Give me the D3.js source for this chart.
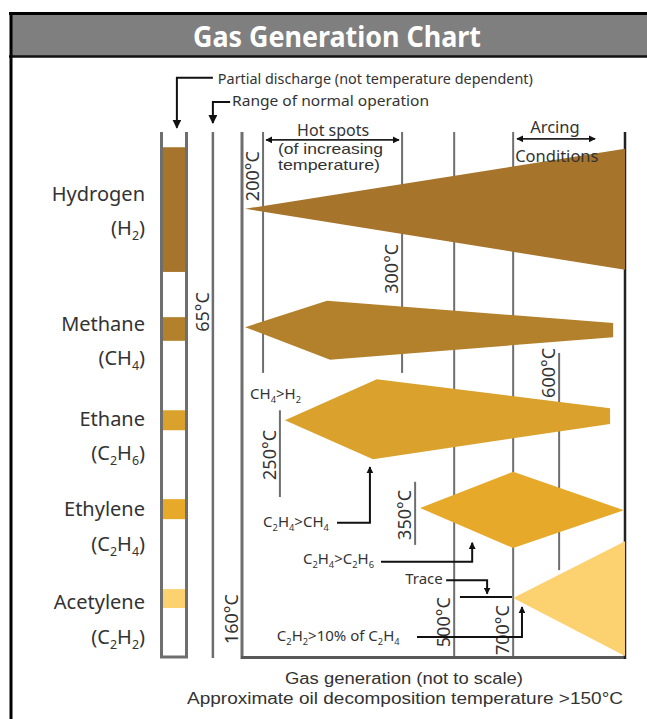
<!DOCTYPE html>
<html><head><meta charset="utf-8">
<script src="https://cdn.jsdelivr.net/npm/d3@7"></script>
<style>
body{margin:0;background:#fff}
svg{display:block}
text{font-family:"Noto Sans","Open Sans",sans-serif;fill:#333}
text.tight{font-family:"Liberation Sans",Arial,sans-serif}
</style>
</head><body>
<svg id="c" width="647" height="719"></svg>
<script>
// ---------------- data ----------------
const title = "Gas Generation Chart";
const gases = ["Hydrogen", "Methane", "Ethane", "Ethylene", "Acetylene"];
const formulas = ["(H_2)", "(CH_4)", "(C_2H_6)", "(C_2H_4)", "(C_2H_2)"];
const gasColors = ["#a6742a", "#b3812b", "#daa22d", "#e7a92a", "#fcd170"];
// partial discharge column: [start, end] in chart height units (0 top .. 100 bottom)
const dischargeBars = [[2.9, 26.6], [35.2, 39.7], [52.9, 56.7], [69.8, 73.6], [86.9, 90.5]];
// gas generation shapes, [generation position (0..100), height units]
const shapes = [
  [[0.8, 14.6], [100, 3.2], [100, 26.2]],
  [[0.8, 37.1], [22.2, 32.1], [96.9, 36.3], [96.9, 39.0], [23.0, 43.3]],
  [[11.2, 54.8], [35.2, 47.0], [96.1, 52.5], [96.1, 55.5], [34.2, 62.2]],
  [[46.5, 71.5], [70.8, 64.6], [99.7, 71.9], [70.8, 79.1]],
  [[70.8, 88.6], [100, 77.8], [100, 99.6]]
];
// temperature marker lines
const tempLabels = ["200°C", "300°C", "250°C", "350°C", "500°C", "700°C", "600°C"];
const tempPos    = [5.5, 41.8, 9.9, 45.2, 55.4, 70.8, 82.8];
const tempTop    = [0, 0, 52.9, 66.5, 0, 0, 42.0];
const tempBottom = [45.8, 45.8, 69.4, 78.5, 100, 100, 83.3];
const tempLabelAt = [8.4, 26.0, 61.4, 72.8, 93.2, 94.7, 45.8];
// boundary temperatures
const boundaryLabels = ["65°C", "160°C"];
const boundaryPos = [-7.6, 0];
const boundaryLabelAt = [34.2, 92.6];
// ratio annotations
const ratioLabels = ["CH_4>H_2", "C_2H_4>CH_4", "C_2H_4>C_2H_6", "Trace", "C_2H_2>10% of C_2H_4"];
const ratioAt = [[2.1, 50.8], [5.5, 75.1], [15.9, 82.1], [42.6, 85.9], [9.1, 96.8]];
const ratioArrows = [null,
  [[24.8, 74.3], [33.4, 74.3], [33.4, 63.7]],
  [[36.3, 81.7], [60.1, 81.7], [60.1, 78.1]],
  [[53.3, 85.2], [64.0, 85.2], [64.0, 87.8]],
  [[45.7, 96.0], [73.1, 96.0], [73.1, 90.3]]];
const traceLine = [[56.9, 88.4], [70.5, 88.4]];
// top callouts
const calloutLabels = ["Partial discharge (not temperature dependent)", "Range of normal operation"];
const calloutArrows = [
  [[-7.6, -10.3], [-17.0, -10.3], [-17.0, -0.8]],
  [[-3.1, -5.7], [-7.6, -5.7], [-7.6, -1.7]]];
const calloutAt = [[-6.3, -9.1], [-2.6, -4.9]];
const calloutWidths = [315, 197];
const hotSpotsLines = ["(of increasing", "temperature)"];
const regionLabels = ["Hot spots", "Arcing", "Conditions"];
const hotSpotsArrow = [6.3, 41.0];
const arcingArrow = [71.8, 92.2];
const captions = ["Gas generation (not to scale)", "Approximate oil decomposition temperature >150°C"];

// ---------------- layout ----------------
const svg = d3.select("#c");
const x = d3.scaleLinear().domain([0, 100]).range([242, 625]);
const y = d3.scaleLinear().domain([0, 100]).range([132, 658]);
const line = d3.line().x(d => x(d[0])).y(d => y(d[1]));
const gray = "#6e6e6e";

const defs = svg.append("defs");
function marker(id, size) {
  defs.append("marker").attr("id", id).attr("viewBox", "0 0 10 10")
    .attr("refX", 9).attr("refY", 5).attr("markerUnits", "userSpaceOnUse")
    .attr("markerWidth", size).attr("markerHeight", size)
    .attr("orient", "auto-start-reverse")
    .append("path").attr("d", "M0,0 L10,5 L0,10 z").attr("fill", "#111");
}
marker("arr", 9);
marker("arrS", 7);

function rich(sel, str, fs) {
  const parts = str.split(/(_\d+)/).filter(s => s);
  let prevSub = false;
  parts.forEach(p => {
    if (p[0] === "_") {
      sel.append("tspan").attr("font-size", fs * 0.62).attr("dy", fs * 0.25).text(p.slice(1));
      prevSub = true;
    } else {
      const t = sel.append("tspan").text(p);
      if (prevSub) t.attr("dy", -fs * 0.25);
      prevSub = false;
    }
  });
}

// frame + title bar
svg.append("rect").attr("x", 10).attr("y", 14).attr("width", 650).attr("height", 42).attr("fill", "#7f7f7f");
svg.append("line").attr("x1", 9).attr("x2", 647).attr("y1", 13.5).attr("y2", 13.5).attr("stroke", "#000").attr("stroke-width", 3);
svg.append("line").attr("x1", 9).attr("x2", 647).attr("y1", 56.5).attr("y2", 56.5).attr("stroke", "#111").attr("stroke-width", 2.5);
svg.append("line").attr("x1", 11).attr("x2", 11).attr("y1", 12).attr("y2", 719).attr("stroke", "#000").attr("stroke-width", 3);
svg.append("text").attr("x", 337).attr("y", 47).attr("text-anchor", "middle")
  .attr("font-size", 29).attr("font-weight", "bold").style("fill", "#fff")
  .attr("textLength", 288).attr("lengthAdjust", "spacingAndGlyphs").text(title);

// partial discharge column
const colL = 161.5, colR = 186.5;
svg.selectAll(".pd").data(dischargeBars).join("rect")
  .attr("x", colL + 1).attr("width", colR - colL - 2)
  .attr("y", d => y(d[0])).attr("height", d => y(d[1]) - y(d[0]))
  .attr("fill", (d, i) => gasColors[i]);
svg.append("path").attr("d", `M${colL},${y(0)} V${y(100) - 1} H${colR} V${y(0)}`)
  .attr("fill", "none").attr("stroke", gray).attr("stroke-width", 3);

// range of normal operation line
svg.append("line").attr("x1", x(-7.6)).attr("x2", x(-7.6)).attr("y1", y(0)).attr("y2", y(100))
  .attr("stroke", gray).attr("stroke-width", 2.5);

// temperature lines
svg.selectAll(".tl").data(tempPos).join("line")
  .attr("x1", d => x(d)).attr("x2", d => x(d))
  .attr("y1", (d, i) => y(tempTop[i])).attr("y2", (d, i) => y(tempBottom[i]))
  .attr("stroke", gray).attr("stroke-width", 2);

// axes of the generation area
svg.append("line").attr("x1", x(0)).attr("x2", x(0)).attr("y1", y(0)).attr("y2", y(100) + 1)
  .attr("stroke", gray).attr("stroke-width", 3);
svg.append("line").attr("x1", x(0) - 1).attr("x2", x(100) + 1).attr("y1", y(100) - 0.5).attr("y2", y(100) - 0.5)
  .attr("stroke", "#595959").attr("stroke-width", 3);
svg.append("line").attr("x1", x(100)).attr("x2", x(100)).attr("y1", y(0)).attr("y2", y(100) + 1)
  .attr("stroke", "#222").attr("stroke-width", 2.5);

// gas shapes
svg.selectAll(".shape").data(shapes).join("path")
  .attr("d", d => line(d) + "Z").attr("fill", (d, i) => gasColors[i]);

// temperature labels
function vlabel(px, py, t) {
  svg.append("text").attr("transform", `translate(${px},${py}) rotate(-90)`)
    .attr("text-anchor", "middle").attr("font-size", 18).text(t);
}
tempLabels.forEach((t, i) => vlabel(x(tempPos[i]) - 4, y(tempLabelAt[i]), t));
boundaryLabels.forEach((t, i) => vlabel(x(boundaryPos[i]) - 4, y(boundaryLabelAt[i]), t));

// gas labels
const nameBase = [201, 331, 426, 516, 609];
const formBase = [235, 365, 460, 551, 644];
gases.forEach((g, i) => {
  svg.append("text").attr("x", 145).attr("y", nameBase[i]).attr("text-anchor", "end")
    .attr("font-size", 20).text(g);
  const t = svg.append("text").attr("x", 145).attr("y", formBase[i]).attr("text-anchor", "end")
    .attr("font-size", 20);
  rich(t, formulas[i], 20);
});

// callouts at the top
calloutArrows.forEach(a => svg.append("path").attr("d", line(a)).attr("fill", "none")
  .attr("stroke", "#111").attr("stroke-width", 2).attr("marker-end", "url(#arr)"));
calloutLabels.forEach((t, i) => svg.append("text").attr("x", x(calloutAt[i][0])).attr("y", y(calloutAt[i][1]))
  .attr("font-size", 15).attr("textLength", calloutWidths[i]).attr("lengthAdjust", "spacingAndGlyphs").text(t));

// hot spots / arcing
[hotSpotsArrow, arcingArrow].forEach((a, i) => svg.append("path")
  .attr("d", line([[a[0], i ? 1.3 : 1.5], [a[1], i ? 1.3 : 1.5]]))
  .attr("stroke", "#222").attr("stroke-width", 1.6)
  .attr("marker-start", "url(#arrS)").attr("marker-end", "url(#arrS)"));
svg.append("text").attr("x", x(23.8)).attr("y", y(0.8)).attr("text-anchor", "middle").attr("font-size", 16).text(regionLabels[0]);
const hsW = [105, 102];
hotSpotsLines.forEach((t, i) => svg.append("text").attr("class", "tight")
  .attr("x", x(9.4)).attr("y", y(4.2 + i * 3.0)).attr("font-size", 14.5)
  .attr("textLength", hsW[i]).attr("lengthAdjust", "spacingAndGlyphs").text(t));
svg.append("text").attr("x", x(81.7)).attr("y", y(0.2)).attr("text-anchor", "middle").attr("font-size", 16.5).text(regionLabels[1]);
svg.append("text").attr("x", x(82.2)).attr("y", y(5.7)).attr("text-anchor", "middle").attr("font-size", 16.5).text(regionLabels[2]);

// ratio annotations
ratioLabels.forEach((r, i) => {
  const t = svg.append("text").attr("x", x(ratioAt[i][0])).attr("y", y(ratioAt[i][1])).attr("font-size", 15);
  rich(t, r, 15);
  if (ratioArrows[i]) svg.append("path").attr("d", line(ratioArrows[i])).attr("fill", "none")
    .attr("stroke", "#111").attr("stroke-width", 2).attr("marker-end", "url(#arrS)");
});
svg.append("path").attr("d", line(traceLine)).attr("stroke", "#111").attr("stroke-width", 2);

// captions
const capX = [404, 405], capY = [684, 704], capW = [238, 436];
captions.forEach((c, i) => svg.append("text").attr("class", "tight")
  .attr("x", capX[i]).attr("y", capY[i]).attr("text-anchor", "middle").attr("font-size", 17.3)
  .attr("textLength", capW[i]).attr("lengthAdjust", "spacingAndGlyphs").text(c));
</script>
</body></html>
